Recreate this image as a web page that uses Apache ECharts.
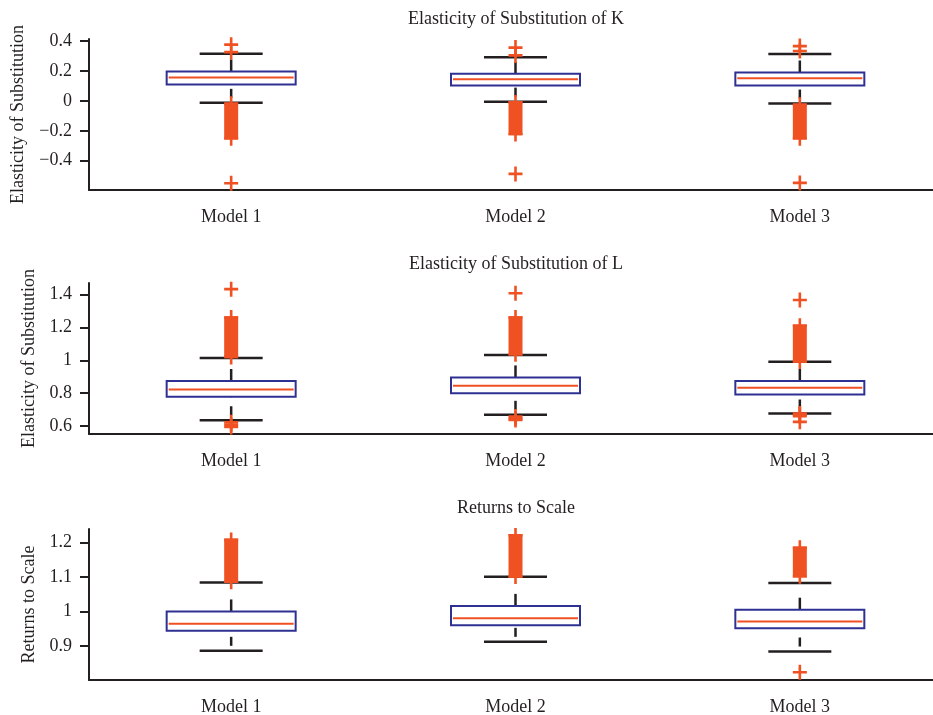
<!DOCTYPE html>
<html>
<head>
<meta charset="utf-8">
<script src="https://cdn.jsdelivr.net/npm/echarts@6/dist/echarts.min.js"></script>
<style>
html, body { margin: 0; padding: 0; background: #fff; }
#chart { width: 933px; height: 715px; }
</style>
</head>
<body>
<div id="chart"></div>
<script>
var models = ['Model 1', 'Model 2', 'Model 3'];

// Elasticity of Substitution of K
var kLow  = [-0.013, -0.005, -0.018];
var kQ1   = [0.109, 0.103, 0.103];
var kMed  = [0.156, 0.145, 0.152];
var kQ3   = [0.197, 0.181, 0.190];
var kHigh = [0.315, 0.291, 0.313];
var kOutliers = [
    [0.376, 0.326, -0.019, -0.250, -0.550],
    [0.356, 0.304, -0.010, -0.221, -0.488],
    [0.366, 0.333, -0.026, -0.250, -0.548]
];
var kClusters = [[-0.250, -0.019], [-0.221, -0.010], [-0.250, -0.026]];
var kTicks = [-0.4, -0.2, 0, 0.2, 0.4];

// Elasticity of Substitution of L
var lLow  = [0.635, 0.668, 0.676];
var lQ1   = [0.778, 0.800, 0.792];
var lMed  = [0.823, 0.845, 0.833];
var lQ3   = [0.874, 0.896, 0.874];
var lHigh = [1.014, 1.032, 0.991];
var lOutliers = [
    [1.434, 1.261, 1.021, 0.622, 0.607, 0.594],
    [1.409, 1.261, 1.037, 0.657, 0.645, 0.637],
    [1.368, 1.211, 0.993, 0.676, 0.668, 0.660, 0.625]
];
var lClusters = [[1.021, 1.261], [1.037, 1.261], [0.993, 1.211]];
var lTicks = [0.6, 0.8, 1, 1.2, 1.4];

// Returns to Scale
var rLow  = [0.886, 0.912, 0.884];
var rQ1   = [0.944, 0.960, 0.951];
var rMed  = [0.964, 0.980, 0.971];
var rQ3   = [1.000, 1.016, 1.005];
var rHigh = [1.084, 1.100, 1.082];
var rOutliers = [
    [1.207, 1.086],
    [1.220, 1.101],
    [1.184, 1.102, 0.824]
];
var rClusters = [[1.086, 1.207], [1.101, 1.220], [1.102, 1.184]];
var rTicks = [0.9, 1, 1.1, 1.2];

var panels = [
    { title: 'Elasticity of Substitution of K', yName: 'Elasticity of Substitution',
      low: kLow, q1: kQ1, med: kMed, q3: kQ3, high: kHigh, out: kOutliers, cl: kClusters, ticks: kTicks,
      top: 39, min: -0.5955, max: 0.4136, nameGap: 62, titleY: 19 },
    { title: 'Elasticity of Substitution of L', yName: 'Elasticity of Substitution',
      low: lLow, q1: lQ1, med: lMed, q3: lQ3, high: lHigh, out: lOutliers, cl: lClusters, ticks: lTicks,
      top: 283, min: 0.5511, max: 1.4714, nameGap: 51, titleY: 264 },
    { title: 'Returns to Scale', yName: 'Returns to Scale',
      low: rLow, q1: rQ1, med: rMed, q3: rQ3, high: rHigh, out: rOutliers, cl: rClusters, ticks: rTicks,
      top: 529, min: 0.8016, max: 1.2385, nameGap: 51, titleY: 508 }
];

var FONT = 'Liberation Serif';
var INK = '#231f20';
var BLUE = '#2e3192';
var RED = '#f05123';
var PLUS = 'path://M-1.3,-7.5 H1.3 V-1.3 H7 V1.3 H1.3 V7.5 H-1.3 V1.3 H-7 V-1.3 H-1.3 Z';

function renderBox(params, api) {
    var i = api.value(0);
    var pLow = api.coord([i, api.value(1)]);
    var pQ1 = api.coord([i, api.value(2)]);
    var pMed = api.coord([i, api.value(3)]);
    var pQ3 = api.coord([i, api.value(4)]);
    var pHigh = api.coord([i, api.value(5)]);
    var cx = pMed[0];
    var bw = 129, cw = 63;
    return {
        type: 'group',
        children: [
            { type: 'line', shape: { x1: cx, y1: pQ3[1], x2: cx, y2: pHigh[1] },
              style: { stroke: INK, lineWidth: 2.5, lineDash: [12, 20] } },
            { type: 'line', shape: { x1: cx, y1: pLow[1], x2: cx, y2: pQ1[1] },
              style: { stroke: INK, lineWidth: 2.5, lineDash: [9, 9], lineDashOffset: 13 } },
            { type: 'line', shape: { x1: cx - cw / 2, y1: pHigh[1], x2: cx + cw / 2, y2: pHigh[1] },
              style: { stroke: INK, lineWidth: 2.5 } },
            { type: 'line', shape: { x1: cx - cw / 2, y1: pLow[1], x2: cx + cw / 2, y2: pLow[1] },
              style: { stroke: INK, lineWidth: 2.5 } },
            { type: 'rect', shape: { x: cx - bw / 2, y: pQ3[1], width: bw, height: pQ1[1] - pQ3[1] },
              style: { fill: '#fff', stroke: BLUE, lineWidth: 2 } },
            { type: 'line', shape: { x1: cx - bw / 2 + 2, y1: pMed[1], x2: cx + bw / 2 - 2, y2: pMed[1] },
              style: { stroke: RED, lineWidth: 2 } }
        ]
    };
}

function renderCluster(params, api) {
    var i = api.value(0);
    var pLo = api.coord([i, api.value(1)]);
    var pHi = api.coord([i, api.value(2)]);
    var w = 14;
    return {
        type: 'rect',
        shape: { x: pLo[0] - w / 2, y: pHi[1] - 1.3, width: w, height: pLo[1] - pHi[1] + 2.6 },
        style: { fill: RED }
    };
}

var grids = [], xAxes = [], yAxes = [], series = [], graphics = [];

panels.forEach(function (p, g) {
    grids.push({ left: 89, top: p.top, width: 853, height: 151, containLabel: false, outerBoundsMode: 'none' });
    xAxes.push({
        gridIndex: g, type: 'category', data: models, boundaryGap: true,
        axisLine: { onZero: false, lineStyle: { color: INK, width: 2 } },
        axisTick: { alignWithLabel: true, length: 8, lineStyle: { color: INK, width: 2 } },
        axisLabel: { margin: 18, color: INK, fontFamily: FONT, fontSize: 18 },
        splitLine: { show: false }
    });
    yAxes.push({
        gridIndex: g, type: 'value', min: p.min, max: p.max,
        name: p.yName, nameLocation: 'middle', nameRotate: 90, nameGap: p.nameGap,
        nameTextStyle: { color: INK, fontFamily: FONT, fontSize: 18 },
        axisLine: { show: true, onZero: false, lineStyle: { color: INK, width: 2 } },
        axisTick: { show: true, length: 9, customValues: p.ticks, lineStyle: { color: INK, width: 2 } },
        axisLabel: {
            customValues: p.ticks, margin: 17, color: INK, fontFamily: FONT, fontSize: 18,
            formatter: function (v) { return String(v).replace('-', '\u2212'); }
        },
        splitLine: { show: false }
    });

    var boxData = models.map(function (m, i) {
        return [i, p.low[i], p.q1[i], p.med[i], p.q3[i], p.high[i]];
    });
    series.push({
        type: 'custom', xAxisIndex: g, yAxisIndex: g, z: 2,
        renderItem: renderBox, encode: { x: 0, y: [1, 2, 3, 4, 5] }, data: boxData
    });
    series.push({
        type: 'custom', xAxisIndex: g, yAxisIndex: g, z: 3,
        renderItem: renderCluster, encode: { x: 0, y: [1, 2] },
        data: p.cl.map(function (c, i) { return [i, c[0], c[1]]; })
    });
    var pts = [];
    p.out.forEach(function (vals, i) {
        vals.forEach(function (v) { pts.push([i, v]); });
    });
    series.push({
        type: 'scatter', xAxisIndex: g, yAxisIndex: g, z: 4,
        symbol: PLUS, symbolSize: [14, 15], itemStyle: { color: RED, opacity: 1 },
        data: pts
    });

    graphics.push({
        type: 'text', x: 516, y: p.titleY,
        style: { text: p.title, fill: INK, font: '18px "' + FONT + '"', textAlign: 'center', textVerticalAlign: 'middle' }
    });
});

var chart = echarts.init(document.getElementById('chart'), null, { renderer: 'canvas' });
chart.setOption({
    animation: false,
    backgroundColor: '#fff',
    grid: grids,
    xAxis: xAxes,
    yAxis: yAxes,
    series: series,
    graphic: graphics
});
</script>
</body>
</html>
